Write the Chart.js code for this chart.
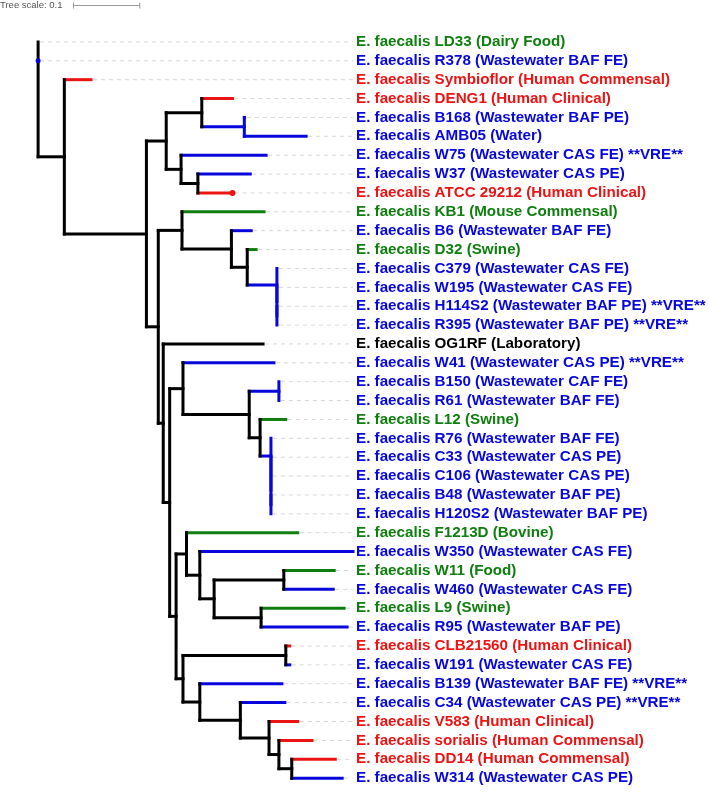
<!DOCTYPE html>
<html>
<head>
<meta charset="utf-8">
<title>E. faecalis tree</title>
<script src="https://cdn.jsdelivr.net/npm/chart.js@4.4.1/dist/chart.umd.min.js"></script>
<style>
  html, body { margin: 0; padding: 0; background: #fff; }
  canvas { display: block; }
</style>
</head>
<body>
<canvas id="chart" width="709" height="792"></canvas>
<script>
// leaves, top to bottom
const strains = [
  "LD33", "R378", "Symbioflor", "DENG1", "B168", "AMB05", "W75", "W37", "ATCC 29212",
  "KB1", "B6", "D32", "C379", "W195", "H114S2", "R395", "OG1RF", "W41", "B150", "R61",
  "L12", "R76", "C33", "C106", "B48", "H120S2", "F1213D", "W350", "W11", "W460", "L9",
  "R95", "CLB21560", "W191", "B139", "C34", "V583", "sorialis", "DD14", "W314"
];
const sources = [
  "Dairy Food", "Wastewater BAF FE", "Human Commensal", "Human Clinical", "Wastewater BAF PE",
  "Water", "Wastewater CAS FE", "Wastewater CAS PE", "Human Clinical", "Mouse Commensal",
  "Wastewater BAF FE", "Swine", "Wastewater CAS FE", "Wastewater CAS FE", "Wastewater BAF PE",
  "Wastewater BAF PE", "Laboratory", "Wastewater CAS PE", "Wastewater CAF FE", "Wastewater BAF FE",
  "Swine", "Wastewater BAF FE", "Wastewater CAS PE", "Wastewater CAS PE", "Wastewater BAF PE",
  "Wastewater BAF PE", "Bovine", "Wastewater CAS FE", "Food", "Wastewater CAS FE", "Swine",
  "Wastewater BAF PE", "Human Clinical", "Wastewater CAS FE", "Wastewater BAF FE",
  "Wastewater CAS PE", "Human Clinical", "Human Commensal", "Human Commensal", "Wastewater CAS PE"
];
// g = animal/food, b = wastewater/water, r = human, k = lab
const groups = [
  "g", "b", "r", "r", "b", "b", "b", "b", "r", "g", "b", "g", "b", "b", "b", "b", "k", "b", "b", "b",
  "g", "b", "b", "b", "b", "b", "g", "b", "g", "b", "g", "b", "r", "b", "b", "b", "r", "r", "r", "b"
];
const vreStrains = ["W75", "H114S2", "R395", "W41", "B139", "C34"];
const dotted = ["R378", "ATCC 29212"];

// topology + branch lengths
const newick =
  "(LD33:0,R378:0,(Symbioflor:0.0403,(((DENG1:0.0463,(B168:0.001,AMB05:0.0933):0.0642):0.0537," +
  "(W75:0.1284,(W37:0.0791,ATCC_29212:0.0522):0.0254):0.0224):0.0299," +
  "((KB1:0.1239,(B6:0.0299,(D32:0.0134,(C379:0,(W195:0,(H114S2:0,R395:0):0):0):0.0448):0.0239):0.0746):0.0358," +
  "(OG1RF:0.1507,((W41:0.1373,((B150:0,R61:0):0.0448,(L12:0.0388,(R76:0,(C33:0,(C106:0,(B48:0,H120S2:0):0):0):0):0.0164):0.0164):0.1):0.0201," +
  "((F1213D:0.1679,(W350:0.2313,((W11:0.0761,W460:0.0746):0.1052,(L9:0.1254,R95:0.1299):0.0709):0.0216):0.0201):0.0157," +
  "((CLB21560:0.006,W191:0.006):0.1552,(B139:0.1239,(C34:0.0672,(V583:0.0433,(sorialis:0.05,(DD14:0.0657,W314:0.0761):0.0194):0.0149):0.0433):0.0612):0.0254):0.0104)" +
  ":0.0097):0.0097):0.0075):0.0179):0.1239):0.0396);";
const treeScale = 0.1;

const groupColors = { g: "#0e7f0e", b: "#0707dc", r: "#ec1313", k: "#000000" };

function parseNewick(s) {
  let i = 0;
  function node() {
    const n = { children: [] };
    if (s[i] === "(") {
      i++;
      n.children.push(node());
      while (s[i] === ",") { i++; n.children.push(node()); }
      i++;
    }
    let name = "";
    while (i < s.length && !":,();".includes(s[i])) name += s[i++];
    n.name = name.replace(/_/g, " ");
    let len = "";
    if (s[i] === ":") {
      i++;
      while (i < s.length && !",();".includes(s[i])) len += s[i++];
    }
    n.length = len ? parseFloat(len) : 0;
    return n;
  }
  return node();
}

function layout(n, x) {
  n.x = x;
  if (!n.children.length) {
    n.y = strains.indexOf(n.name);
    n.group = groups[n.y];
  } else {
    n.children.forEach(c => layout(c, x + c.length));
    n.y = (n.children[0].y + n.children[n.children.length - 1].y) / 2;
    const gs = new Set(n.children.map(c => c.group));
    n.group = gs.size === 1 ? [...gs][0] : "k";
  }
}

const root = parseNewick(newick);
layout(root, 0);

const branchSets = [];
const dotSets = [];
const leaves = [];

function seg(a, b, color) {
  return {
    data: [{ x: a[0], y: a[1] }, { x: b[0], y: b[1] }],
    showLine: true,
    borderColor: color,
    borderWidth: 3,
    borderCapStyle: "square",
    pointRadius: 0,
    order: 1
  };
}

function addBranches(n, parentX) {
  const color = groupColors[n.group];
  // zero-length branches draw nothing
  if (parentX !== null && n.length > 0) {
    branchSets.push(seg([parentX, n.y], [n.x, n.y], color));
  }
  if (n.children.length) {
    const first = n.children[0], last = n.children[n.children.length - 1];
    branchSets.push(seg([n.x, first.y], [n.x, last.y], color));
    n.children.forEach(c => addBranches(c, n.x));
  } else {
    leaves.push(n);
    if (dotted.includes(n.name)) {
      dotSets.push({
        data: [{ x: n.x, y: n.y }],
        showLine: false,
        pointRadius: n.x > 0 ? 3 : 2.5,
        pointBackgroundColor: color,
        pointBorderWidth: 0,
        order: 0
      });
    }
  }
}
addBranches(root, null);

const maxX = Math.max(...leaves.map(l => l.x));
const guideGap = 2 / 670;

const guideSets = leaves
  .filter(l => l.x < maxX - 1e-6)
  .map(l => ({
    data: [{ x: l.x + guideGap, y: l.y }, { x: maxX, y: l.y }],
    showLine: true,
    borderColor: "#d6d6d6",
    borderWidth: 1,
    borderDash: [4, 4],
    pointRadius: 0,
    order: 2
  }));

const labelPlugin = {
  id: "treeLabels",
  afterDatasetsDraw(chart) {
    const { ctx } = chart;
    const xs = chart.scales.x, ys = chart.scales.y;
    ctx.save();
    ctx.font = 'bold 15.2px "Liberation Sans", Arial, sans-serif';
    ctx.textBaseline = "middle";
    ctx.textAlign = "left";
    const lx = xs.getPixelForValue(maxX) + 3;
    leaves.forEach(l => {
      const i = l.y;
      let text = "E. faecalis " + strains[i] + " (" + sources[i] + ")";
      if (vreStrains.includes(strains[i])) text += " **VRE**";
      ctx.fillStyle = groupColors[groups[i]];
      ctx.fillText(text, lx, ys.getPixelForValue(i));
    });

    // tree scale
    ctx.font = '9.5px "Liberation Sans", Arial, sans-serif';
    ctx.fillStyle = "#555";
    ctx.fillText("Tree scale: " + treeScale, 0, 5);
    const x0 = 73.5;
    const x1 = x0 + xs.getPixelForValue(treeScale) - xs.getPixelForValue(0);
    ctx.strokeStyle = "#9a9a9a";
    ctx.lineWidth = 1;
    ctx.beginPath();
    ctx.moveTo(x0, 5.5); ctx.lineTo(x1, 5.5);
    ctx.moveTo(x0, 2.5); ctx.lineTo(x0, 8.5);
    ctx.moveTo(x1, 2.5); ctx.lineTo(x1, 8.5);
    ctx.stroke();
    ctx.restore();
  }
};

// pixel frame: root at 34.5px, 0.1 = 67px; first leaf at 38.3px, row step 19.07px
const W = 709, H = 792;
const xPerUnit = 670, rootPx = 34.5;
const rowPx = 19.07, firstRowPx = 38.3;

new Chart(document.getElementById("chart"), {
  type: "scatter",
  data: { datasets: dotSets.concat(branchSets, guideSets) },
  options: {
    responsive: false,
    animation: false,
    devicePixelRatio: 1,
    layout: { padding: 0 },
    plugins: { legend: { display: false }, tooltip: { enabled: false } },
    scales: {
      x: {
        type: "linear",
        display: false,
        bounds: "data",
        min: -rootPx / xPerUnit,
        max: (W - rootPx) / xPerUnit
      },
      y: {
        type: "linear",
        display: false,
        reverse: true,
        bounds: "data",
        min: -firstRowPx / rowPx,
        max: (H - firstRowPx) / rowPx
      }
    }
  },
  plugins: [labelPlugin]
});
</script>
</body>
</html>
